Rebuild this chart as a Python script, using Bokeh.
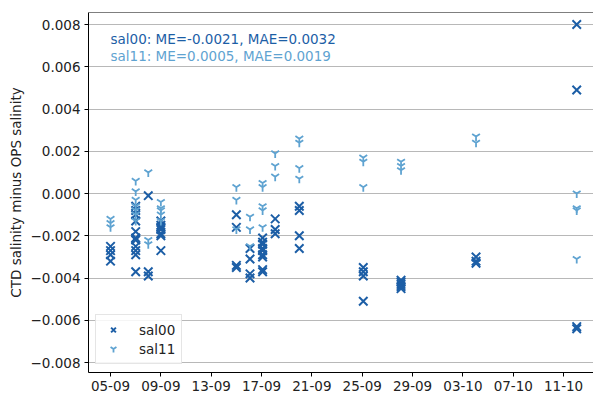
from datetime import datetime

from bokeh.embed import file_html
from bokeh.models import (CustomJSTickFormatter, DatetimeTickFormatter,
                          FixedTicker, Label, Legend, LegendItem, Range1d, Span)
from bokeh.plotting import figure
from bokeh.resources import INLINE

# CTD cast times and the per-cast salinity differences (CTD minus OPS)
cast_times = [
    "2023-09-05 00:00", "2023-09-07 00:00", "2023-09-08 00:00", "2023-09-09 00:00",
    "2023-09-15 00:00", "2023-09-16 02:00", "2023-09-17 02:00", "2023-09-18 02:00",
    "2023-09-20 00:00", "2023-09-25 02:00", "2023-09-28 02:00", "2023-10-04 01:00",
    "2023-10-12 01:00",
]

sal00_diff = [
    [-0.0025, -0.0027, -0.0029, -0.0032],
    [-0.0006, -0.0008, -0.0010, -0.0013, -0.0018, -0.0021, -0.0022, -0.0025, -0.0027, -0.0029, -0.0037],
    [-0.0001, -0.0037, -0.0039],
    [-0.0013, -0.0015, -0.0016, -0.0017, -0.0019, -0.0020, -0.0027],
    [-0.0010, -0.0016, -0.0034, -0.0035],
    [-0.0026, -0.0031, -0.0038, -0.0040],
    [-0.0021, -0.0023, -0.0024, -0.0026, -0.0027, -0.0029, -0.0030, -0.0036, -0.0037],
    [-0.0012, -0.0017, -0.0019],
    [-0.0006, -0.0008, -0.0020, -0.0026],
    [-0.0035, -0.0037, -0.0039, -0.0051],
    [-0.0041, -0.0042, -0.0043, -0.0044, -0.0045],
    [-0.0030, -0.0032, -0.0033],
    [0.0080, 0.0049, -0.0063, -0.0064],
]

sal11_diff = [
    [-0.0012, -0.0014, -0.0016],
    [0.0006, 0.0001, -0.0003, -0.0006, -0.0008, -0.0010, -0.0013],
    [0.0010, -0.0022, -0.0024],
    [-0.0004, -0.0007, -0.0008, -0.0010, -0.0013],
    [0.0003, -0.0003, -0.0017],
    [-0.0011, -0.0017, -0.0025],
    [0.0005, 0.0003, -0.0006, -0.0008, -0.0016],
    [0.0019, 0.0013, 0.0008],
    [0.0026, 0.0024, 0.0012, 0.0007],
    [0.0017, 0.0015, 0.0003],
    [0.0015, 0.0013, 0.0011],
    [0.0027, 0.0024],
    [0.0000, -0.0007, -0.0008, -0.0031],
]

stats_text = ["sal00: ME=-0.0021, MAE=0.0032", "sal11: ME=0.0005, MAE=0.0019"]
series_names = ["sal00", "sal11"]

x_tick_dates = ["2023-09-05", "2023-09-09", "2023-09-13", "2023-09-17", "2023-09-21",
                "2023-09-25", "2023-09-29", "2023-10-03", "2023-10-07", "2023-10-11"]
y_ticks = [-0.008, -0.006, -0.004, -0.002, 0.0, 0.002, 0.004, 0.006, 0.008]

EPOCH = datetime(1970, 1, 1)


def to_ms(s):
    fmt = "%Y-%m-%d %H:%M" if " " in s else "%Y-%m-%d"
    return (datetime.strptime(s, fmt) - EPOCH).total_seconds() * 1000.0


def flatten(times, groups):
    xs, ys = [], []
    for t, vals in zip(times, groups):
        for v in vals:
            xs.append(to_ms(t))
            ys.append(v)
    return xs, ys


C0 = "#1c5ea6"
C1 = "#5fa3d1"
FONT = "DejaVu Sans"
FS = "13.5px"

x0, y0 = flatten(cast_times, sal00_diff)
x1, y1 = flatten(cast_times, sal11_diff)

p = figure(width=593, height=396, output_backend="svg", toolbar_location=None,
           x_axis_type="datetime",
           x_range=Range1d(to_ms("2023-09-03 06:00"), to_ms("2023-10-13 09:00")),
           y_range=Range1d(-0.00847, 0.00857),
           min_border_left=88, min_border_right=0, min_border_top=12, min_border_bottom=24)
p.outline_line_color = None
p.background_fill_color = "white"
p.border_fill_color = "white"

# top frame edge
p.add_layout(Span(location=0.00857, dimension="width", line_color="black", line_width=1))

r0 = p.scatter(x0, y0, marker="x", size=12, line_width=2, color=C0)
r1 = p.scatter(x1, y1, marker="y", size=9, line_width=1.8, color=C1)

# axes
p.xaxis.ticker = FixedTicker(ticks=[to_ms(d) for d in x_tick_dates])
p.xaxis.formatter = DatetimeTickFormatter(days="%d-%m", months="%d-%m", hours="%d-%m",
                                          years="%d-%m")
p.yaxis.ticker = FixedTicker(ticks=y_ticks)
p.yaxis.formatter = CustomJSTickFormatter(code="return tick.toFixed(3).replace('-', '\\u2212');")
p.yaxis.axis_label = "CTD salinity minus OPS salinity"
for ax in (p.xaxis[0], p.yaxis[0]):
    ax.axis_line_color = "black"
    ax.axis_line_width = 1
    ax.major_tick_line_color = "black"
    ax.major_tick_out = 4
    ax.major_tick_in = 0
    ax.minor_tick_line_color = None
    ax.major_label_text_font = FONT
    ax.major_label_text_font_size = FS
    ax.major_label_text_color = "#222222"
    ax.major_label_standoff = 4
p.yaxis.axis_label_text_font = FONT
p.yaxis.axis_label_text_font_size = FS
p.yaxis.axis_label_text_font_style = "normal"
p.yaxis.axis_label_text_color = "#222222"
p.yaxis.axis_label_standoff = 4

p.xgrid.grid_line_color = None
p.ygrid.grid_line_color = "#b8b8b8"
p.ygrid.grid_line_width = 1.2

# summary statistics
for txt, col, yv in zip(stats_text, [C0, C1], [0.00733, 0.00652]):
    p.add_layout(Label(x=to_ms("2023-09-05"), y=yv, text=txt, text_color=col,
                       text_font=FONT, text_font_size=FS, text_baseline="middle"))

legend = Legend(items=[LegendItem(label=series_names[0], renderers=[r0]),
                       LegendItem(label=series_names[1], renderers=[r1])],
                location=(7, 8), padding=6, margin=0, spacing=2,
                glyph_width=22, glyph_height=17, label_standoff=15,
                label_text_font=FONT, label_text_font_size=FS, label_text_color="#222222",
                border_line_color="#cccccc", border_line_width=1,
                background_fill_color="white", background_fill_alpha=0.85)
p.add_layout(legend)

open("out.html", "w").write(file_html(p, INLINE))
